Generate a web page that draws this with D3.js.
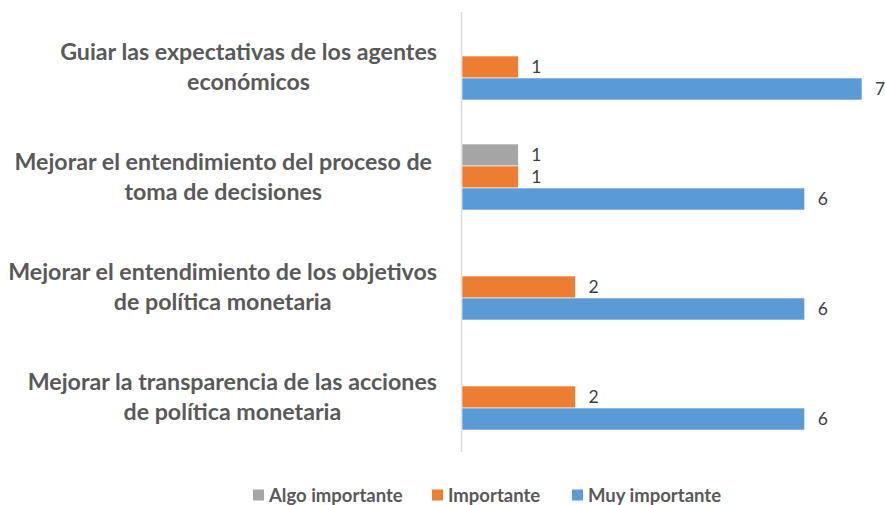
<!DOCTYPE html>
<html>
<head>
<meta charset="utf-8">
<script src="https://cdn.jsdelivr.net/npm/d3@7"></script>
<style>
  body { margin: 0; background: #fff; }
  svg { display: block; }
  .cat-label { font-family: Lato, "Open Sans", sans-serif; font-weight: bold; fill: #595959; }
  .val-label { font-family: Lato, "Open Sans", sans-serif; font-size: 17.5px; fill: #404040; }
  .legend text { font-family: Lato, "Open Sans", sans-serif; font-weight: bold; font-size: 18.5px; fill: #595959; }
</style>
</head>
<body>
<div id="chart"></div>
<script>
var width = 885, height = 505;

// data
var categories = [
  ["Guiar las expectativas de los agentes", "económicos"],
  ["Mejorar el entendimiento del proceso de", "toma de decisiones"],
  ["Mejorar el entendimiento de los objetivos", "de política monetaria"],
  ["Mejorar la transparencia de las acciones", "de política monetaria"]
];
var seriesNames = ["Algo importante", "Importante", "Muy importante"];
var seriesColors = ["#A5A5A5", "#ED7D31", "#5B9BD5"];
var algoImportante = [0, 1, 0, 0];
var importante = [1, 1, 2, 2];
var muyImportante = [7, 6, 6, 6];
var seriesValues = [algoImportante, importante, muyImportante];

var svg = d3.select("#chart").append("svg")
  .attr("width", width)
  .attr("height", height);

var x = d3.scaleLinear().domain([0, 7]).range([461, 862]);

var y = d3.scaleBand()
  .domain(d3.range(categories.length))
  .range([12, 452])
  .paddingInner(0.4)
  .paddingOuter(0.2);

var ySub = d3.scaleBand()
  .domain(d3.range(seriesNames.length))
  .range([0, y.bandwidth()]);

// axis line
svg.append("line")
  .attr("x1", x(0) + 0.5).attr("x2", x(0) + 0.5)
  .attr("y1", 12).attr("y2", 452)
  .attr("stroke", "#d9d9d9")
  .attr("stroke-width", 1.5);

// bars
var rows = [];
categories.forEach(function(c, i){
  seriesValues.forEach(function(vals, s){
    if (vals[i] > 0) rows.push({cat: i, s: s, v: vals[i]});
  });
});

var groups = svg.append("g").attr("class", "bars");

groups.selectAll("rect")
  .data(rows)
  .enter()
  .append("rect")
  .attr("x", x(0) + 1)
  .attr("y", function(d){ return y(d.cat) + ySub(d.s); })
  .attr("width", function(d){ return x(d.v) - x(0) - 1; })
  .attr("height", ySub.bandwidth())
  .attr("fill", function(d){ return seriesColors[d.s]; })
  .attr("stroke", "#fff")
  .attr("stroke-width", 0.6);

groups.selectAll("text")
  .data(rows)
  .enter()
  .append("text")
  .attr("class", "val-label")
  .attr("x", function(d){ return x(d.v) + 13; })
  .attr("y", function(d){ return y(d.cat) + ySub(d.s) + ySub.bandwidth() / 2; })
  .attr("dy", "0.36em")
  .text(function(d){ return d.v; });

// category labels, lines centred inside a right aligned block
var labelsG = svg.append("g").attr("class", "labels");
var labelRight = [437, 432, 437, 437], fontSize = 21, lineGap = 30;

var labelGroups = labelsG.selectAll("g")
  .data(categories)
  .enter()
  .append("g");

labelGroups.each(function(lines, i){
  d3.select(this).selectAll("text")
    .data(lines)
    .enter()
    .append("text")
    .attr("class", "cat-label")
    .style("font-size", fontSize + "px")
    .attr("text-anchor", "middle")
    .attr("y", function(d, j){
      return y(i) + y.bandwidth() / 2 + (j - (lines.length - 1) / 2) * lineGap;
    })
    .attr("dy", "0.35em")
    .text(function(d){ return d; });
});

// fit font to the widest line (about 429px in the original)
var maxW = 0;
labelsG.selectAll("text").each(function(){
  maxW = Math.max(maxW, this.getComputedTextLength());
});
fontSize = fontSize * 429 / maxW;
labelsG.selectAll("text").style("font-size", fontSize + "px");

labelGroups.each(function(d, i){
  var g = d3.select(this), w = 0;
  g.selectAll("text").each(function(){ w = Math.max(w, this.getComputedTextLength()); });
  g.selectAll("text").attr("x", labelRight[i] - w / 2);
});

// legend
var legend = svg.append("g").attr("class", "legend");
var legendX = [253, 432, 572];

var items = legend.selectAll("g")
  .data(seriesNames)
  .enter()
  .append("g")
  .attr("transform", function(d, i){ return "translate(" + legendX[i] + ",495)"; });

items.append("rect")
  .attr("x", 0).attr("y", -5.5)
  .attr("width", 11).attr("height", 11)
  .attr("fill", function(d, i){ return seriesColors[i]; });

items.append("text")
  .attr("x", 16)
  .attr("dy", "0.36em")
  .text(function(d){ return d; });
</script>
</body>
</html>
